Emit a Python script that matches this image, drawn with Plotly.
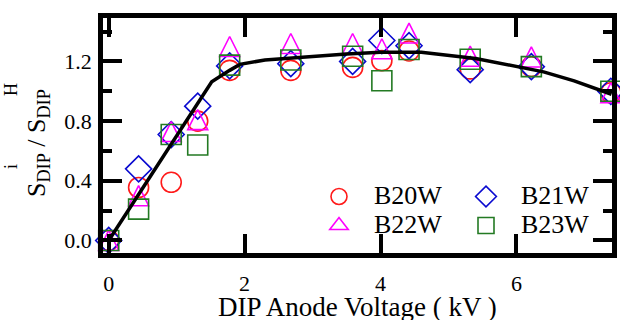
import plotly.graph_objects as go

# ---- data ----
voltage = [0.0, 0.44, 0.92, 1.31, 1.78, 2.68, 3.59, 4.02, 4.42, 5.32, 6.22, 7.39]
b20w = [0.0, 0.355, 0.39, 0.80, 1.14, 1.14, 1.16, 1.205, 1.27, 1.15, 1.165, 0.99]
b21w = [0.0, 0.48, 0.71, 0.90, 1.17, 1.185, 1.20, 1.34, 1.305, 1.145, 1.165, 1.0]
b22w = [0.0, 0.30, 0.73, 0.81, 1.30, 1.32, 1.32, 1.285, 1.39, 1.235, 1.23, 0.99]
b23w = [0.0, 0.21, 0.71, 0.64, 1.175, 1.21, 1.235, 1.07, 1.28, 1.215, 1.165, 1.0]

fit_x = [0.0, 1.516, 1.78, 1.93, 2.3, 3.0, 3.5, 4.0, 4.6, 5.4, 6.0, 6.4, 6.85, 7.4]
fit_y = [0.0, 1.064, 1.14, 1.18, 1.21, 1.235, 1.25, 1.262, 1.262, 1.22, 1.165, 1.13, 1.07, 0.98]

series_names = ["B20W", "B21W", "B22W", "B23W"]
x_ticks = [0, 2, 4, 6]
y_ticks = [0.0, 0.4, 0.8, 1.2]
y_minor = [0.2, 0.6, 1.0, 1.4]

FONT = "Liberation Serif"

fig = go.Figure()

styles = [
    dict(symbol="circle-open", color="#ff1a1a", legend="legend", legend_symbol=None),
    dict(symbol="diamond-open", color="#0a0ad0", legend="legend2", legend_symbol=None),
    dict(symbol="arrow-down-open", color="#ff00ff", angle=180, standoff=10, legend="legend",
         legend_symbol="triangle-up-open"),
    dict(symbol="square-open", color="#237a23", legend="legend2", legend_symbol=None),
]
series = [b20w, b21w, b22w, b23w]

for name, ys, st in zip(series_names, series, styles):
    label = f'<span style="font-size:26px">{name}</span>'
    mk = dict(symbol=st["symbol"], size=20, color=st["color"],
              line=dict(color=st["color"], width=1.6))
    if "angle" in st:
        mk["angle"] = st["angle"]
        mk["standoff"] = st["standoff"]
    own_legend = st["legend_symbol"] is None
    fig.add_trace(go.Scatter(
        x=voltage, y=ys, mode="markers", name=label, legendgroup=name,
        marker=mk, cliponaxis=False, legend=st["legend"], showlegend=own_legend))
    if not own_legend:
        # legend entry only (the tall data triangle cannot be sized in the legend)
        fig.add_trace(go.Scatter(
            x=[None], y=[None], mode="markers", name=label, legendgroup=name,
            legend=st["legend"],
            marker=dict(symbol=st["legend_symbol"], size=16, color=st["color"],
                        line=dict(color=st["color"], width=1.6))))

fig.add_trace(go.Scatter(x=fit_x, y=fit_y, mode="lines", showlegend=False,
                         line=dict(color="black", width=3.5), cliponaxis=False))

L, R, T, B = 103, 8, 18, 67
W, H = 620, 320
pw, ph = W - L - R, H - T - B

def px_x(px):
    return (px - L) / pw

def px_y(py):
    return (H - B - py) / ph

legend_common = dict(orientation="v", xanchor="left", yanchor="top", itemwidth=60,
                     font=dict(size=20, family=FONT), bgcolor="rgba(0,0,0,0)",
                     borderwidth=0, tracegroupgap=0)

fig.update_layout(
    width=W, height=H,
    margin=dict(l=L, r=R, t=T, b=B, pad=0, autoexpand=False),
    plot_bgcolor="white", paper_bgcolor="white",
    font=dict(family=FONT, size=22, color="black"),
    legend=dict(x=px_x(304), y=px_y(177), **legend_common),
    legend2=dict(x=px_x(451), y=px_y(177), **legend_common),
    xaxis=dict(range=[-0.084, 7.407], tickvals=x_ticks, ticktext=[str(v) for v in x_ticks],
               ticks="inside", ticklen=19, tickwidth=4, tickcolor="black",
               showline=True, linewidth=4.5, linecolor="black", mirror="allticks",
               showgrid=False, zeroline=False, ticklabelstandoff=7,
               tickfont=dict(size=22, family=FONT)),
    yaxis=dict(range=[-0.084, 1.491], tickvals=y_ticks, ticktext=[f"{v:.1f}" for v in y_ticks],
               ticks="inside", ticklen=19, tickwidth=4, tickcolor="black",
               showline=True, linewidth=4.5, linecolor="black", mirror="allticks",
               showgrid=False, zeroline=False, ticklabelstandoff=2,
               tickfont=dict(size=22, family=FONT),
               minor=dict(tickvals=y_minor, ticks="inside", ticklen=9, tickwidth=4,
                          tickcolor="black", showgrid=False)),
)

annotations = [
    dict(text="DIP Anode Voltage ( kV )", x=0.5, y=px_y(307), xref="paper", yref="paper",
         xanchor="center", yanchor="middle", showarrow=False, font=dict(size=27, family=FONT)),
    dict(text="S<sub>DIP</sub> / S<sub>DIP</sub>", x=px_x(38), y=px_y(143), xref="paper", yref="paper",
         xanchor="center", yanchor="middle", textangle=-90, showarrow=False,
         font=dict(size=26, family=FONT)),
    dict(text="i", x=px_x(11), y=px_y(167), xref="paper", yref="paper",
         xanchor="center", yanchor="middle", textangle=-90, showarrow=False,
         font=dict(size=18, family=FONT)),
    dict(text="H", x=px_x(11), y=px_y(90), xref="paper", yref="paper",
         xanchor="center", yanchor="middle", textangle=-90, showarrow=False,
         font=dict(size=18, family=FONT)),
]
fig.update_layout(annotations=annotations)

fig.write_html("out.html", config={"displayModeBar": False},
               post_script="document.body.style.margin='0';")
